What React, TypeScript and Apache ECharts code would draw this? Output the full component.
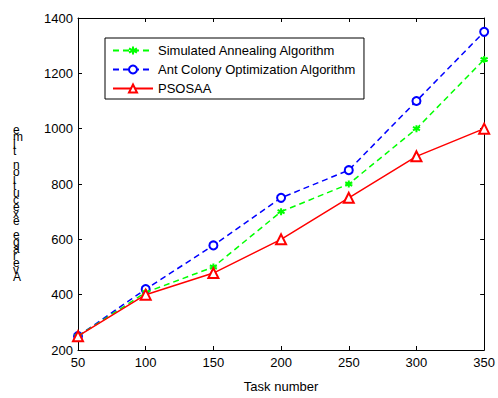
import React, { useEffect, useRef } from "react";
import * as echarts from "echarts";

const taskNumbers = [50, 100, 150, 200, 250, 300, 350];
const saValues = [250, 408, 500, 700, 800, 1000, 1250];
const acoValues = [250, 420, 578, 750, 850, 1100, 1350];
const psosaaValues = [250, 400, 478, 600, 750, 900, 1000];
const seriesNames = [
  "Simulated Annealing Algorithm",
  "Ant Colony Optimization Algorithm",
  "PSOSAA",
];
const yLabelText = "Average execution time";
const xLabelText = "Task number";

const FONT = "Liberation Sans, Arial, sans-serif";

export default function App() {
  const ref = useRef<HTMLDivElement>(null);
  useEffect(() => {
    if (!ref.current) return;
    const chart = echarts.init(ref.current, undefined, { renderer: "svg" });
    const pair = (vals: number[]) => taskNumbers.map((x, i) => [x, vals[i]]);
    const stackedLabel = yLabelText.split("").reverse().join("\n");
    const axisCommon = {
      axisLine: { show: true, lineStyle: { color: "#000", width: 1 } },
      axisTick: { show: true, inside: true, length: 4, lineStyle: { color: "#000" } },
      splitLine: { show: false },
    };
    const plain = (v: number) => String(v);
    chart.setOption({
      animation: false,
      backgroundColor: "#fff",
      textStyle: { fontFamily: FONT },
      grid: { left: 78, right: 12, top: 18, bottom: 39, containLabel: false },
      legend: {
        orient: "vertical",
        left: 105,
        top: 38,
        data: seriesNames,
        borderColor: "#000",
        borderWidth: 1,
        backgroundColor: "#fff",
        padding: [6, 8, 4, 7],
        itemGap: 6,
        itemWidth: 40,
        itemHeight: 10,
        textStyle: { fontSize: 13, color: "#000", fontFamily: FONT },
      },
      xAxis: [
        {
          type: "value",
          min: 50,
          max: 350,
          interval: 50,
          name: xLabelText,
          nameLocation: "middle",
          nameGap: 30,
          nameTextStyle: { fontSize: 13, color: "#000", fontFamily: FONT },
          axisLabel: { fontSize: 13, color: "#000", margin: 6, fontFamily: FONT, formatter: plain },
          ...axisCommon,
        },
        {
          type: "value",
          position: "top",
          min: 50,
          max: 350,
          interval: 50,
          axisLabel: { show: false },
          ...axisCommon,
        },
      ],
      yAxis: [
        {
          type: "value",
          min: 200,
          max: 1400,
          interval: 200,
          axisLabel: { fontSize: 13, color: "#000", margin: 5, fontFamily: FONT, formatter: plain },
          ...axisCommon,
        },
        {
          type: "value",
          position: "right",
          min: 200,
          max: 1400,
          interval: 200,
          axisLabel: { show: false },
          ...axisCommon,
        },
      ],
      graphic: [
        {
          type: "text",
          left: 13,
          top: 124,
          style: {
            text: stackedLabel,
            fontSize: 12,
            lineHeight: 7,
            fill: "#000",
            fontFamily: FONT,
            align: "center",
          },
        },
      ],
      series: [
        {
          name: seriesNames[0],
          type: "line",
          data: pair(saValues),
          symbol: "path://M0,-10 L0,10 M-8.7,-5 L8.7,5 M-8.7,5 L8.7,-5",
          symbolSize: 7,
          itemStyle: { color: "#00ff00", borderColor: "#00ff00", borderWidth: 2 },
          lineStyle: { color: "#00ff00", width: 1.5, type: [6, 4] },
          z: 3,
        },
        {
          name: seriesNames[1],
          type: "line",
          data: pair(acoValues),
          symbol: "emptyCircle",
          symbolSize: 8,
          itemStyle: { color: "#0000ff", borderColor: "#0000ff", borderWidth: 1.5 },
          lineStyle: { color: "#0000ff", width: 1.5, type: [6, 4] },
          z: 2,
        },
        {
          name: seriesNames[2],
          type: "line",
          data: pair(psosaaValues),
          symbol: "emptyTriangle",
          symbolSize: 10,
          itemStyle: { color: "#ff0000", borderColor: "#ff0000", borderWidth: 1.5 },
          lineStyle: { color: "#ff0000", width: 1.5, type: "solid" },
          z: 4,
        },
      ],
    });
    return () => chart.dispose();
  }, []);
  return (
    <div
      ref={ref}
      style={{ position: "fixed", left: 0, top: 0, width: 498, height: 398 }}
    />
  );
}
